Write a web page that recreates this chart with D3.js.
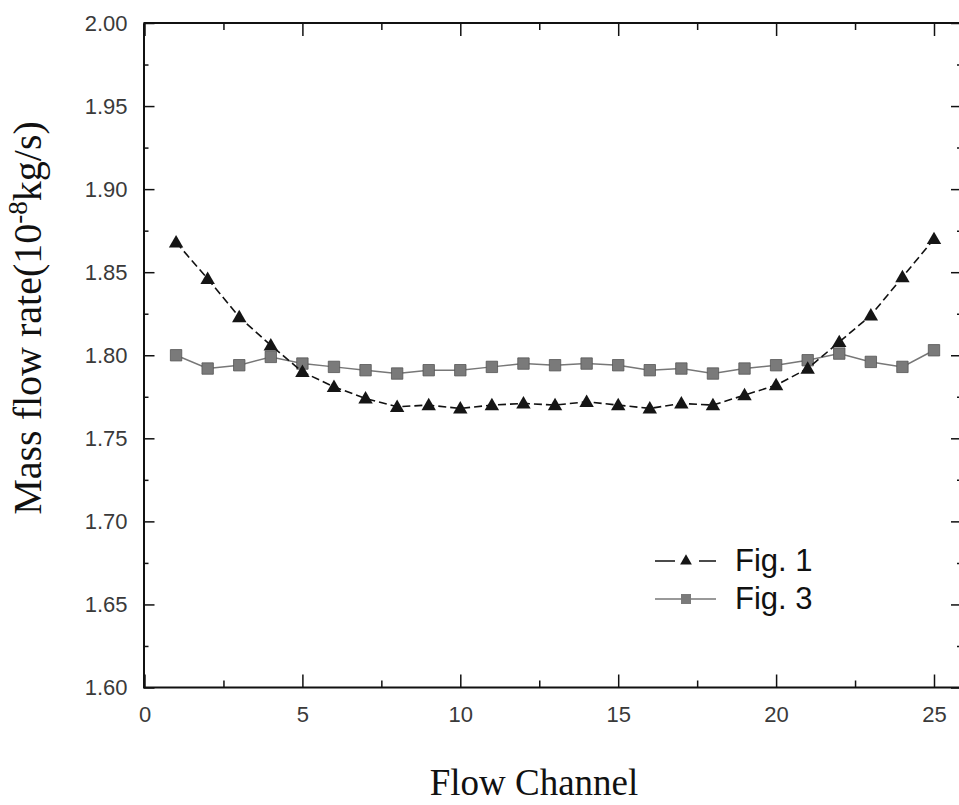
<!DOCTYPE html>
<html>
<head>
<meta charset="utf-8">
<script src="https://cdn.jsdelivr.net/npm/d3@7"></script>
<style>
  body { margin: 0; background: #fff; }
  svg { display: block; }
</style>
</head>
<body>
<div id="chart"></div>
<script>
const channels = [1, 2, 3, 4, 5, 6, 7, 8, 9, 10, 11, 12, 13, 14, 15, 16, 17, 18, 19, 20, 21, 22, 23, 24, 25]
const fig1 = [1.868, 1.846, 1.823, 1.806, 1.790, 1.781, 1.774, 1.769, 1.770, 1.768, 1.770, 1.771, 1.770,
  1.772, 1.770, 1.768, 1.771, 1.770, 1.776, 1.782, 1.792, 1.808, 1.824, 1.847, 1.870]
const fig3 = [1.800, 1.792, 1.794, 1.799, 1.795, 1.793, 1.791, 1.789, 1.791, 1.791, 1.793, 1.795, 1.794,
  1.795, 1.794, 1.791, 1.792, 1.789, 1.792, 1.794, 1.797, 1.801, 1.796, 1.793, 1.803]
const xTicks = [0, 5, 10, 15, 20, 25]
const xMinor = [2.5, 7.5, 12.5, 17.5, 22.5]
const yTicks = [1.60, 1.65, 1.70, 1.75, 1.80, 1.85, 1.90, 1.95, 2.00]
const yMinor = [1.625, 1.675, 1.725, 1.775, 1.825, 1.875, 1.925, 1.975]
const seriesNames = ["Fig. 1", "Fig. 3"]

const width = 959, height = 805
const axL = 143.5, axR = 962, axT = 23, axB = 687.5

const svg = d3.select("#chart").append("svg")
  .attr("width", width)
  .attr("height", height)

const x = d3.scaleLinear().domain([0, 25]).range([144.5, 934])
const y = d3.scaleLinear().domain([1.6, 2.0]).range([axB, axT])

const numFont = "'Liberation Sans', Arial, sans-serif"
const titleFont = "'Liberation Serif', 'Times New Roman', serif"

function styleAxis(g, labels) {
  g.select(".domain").attr("stroke", "#111").attr("stroke-width", 2)
  g.selectAll(".tick line").attr("stroke", "#111").attr("stroke-width", 1.5)
  g.selectAll(".tick text")
    .attr("fill", "#3a3a3a")
    .style("font-family", numFont)
    .style("font-size", "22px")
  if (!labels) g.selectAll(".tick text").remove()
}

// bottom
svg.append("g").attr("transform", `translate(0,${axB})`)
  .call(d3.axisBottom(x).tickValues(xMinor).tickSize(-7).tickSizeOuter(0))
  .call(g => styleAxis(g, false))
  .call(g => g.select(".domain").attr("d", `M${axL},0H${axR}`))
svg.append("g").attr("transform", `translate(0,${axB})`)
  .call(d3.axisBottom(x).tickValues(xTicks).tickSize(-13).tickSizeOuter(0).tickPadding(19))
  .call(g => styleAxis(g, true))
  .call(g => g.select(".domain").remove())

// top
svg.append("g").attr("transform", `translate(0,${axT})`)
  .call(d3.axisTop(x).tickValues(xMinor).tickSize(-7).tickSizeOuter(0))
  .call(g => styleAxis(g, false))
  .call(g => g.select(".domain").attr("d", `M${axL},0H${axR}`))
svg.append("g").attr("transform", `translate(0,${axT})`)
  .call(d3.axisTop(x).tickValues(xTicks).tickSize(-13).tickSizeOuter(0))
  .call(g => styleAxis(g, false))
  .call(g => g.select(".domain").remove())

// left
svg.append("g").attr("transform", `translate(${axL},0)`)
  .call(d3.axisLeft(y).tickValues(yMinor).tickSize(-5).tickSizeOuter(0))
  .call(g => styleAxis(g, false))
svg.append("g").attr("transform", `translate(${axL},0)`)
  .call(d3.axisLeft(y).tickValues(yTicks).tickSize(-11).tickSizeOuter(0).tickPadding(16).tickFormat(d3.format(".2f")))
  .call(g => styleAxis(g, true))
  .call(g => g.select(".domain").remove())

// right
svg.append("g").attr("transform", `translate(${axR},0)`)
  .call(d3.axisRight(y).tickValues(yMinor).tickSize(-5).tickSizeOuter(0))
  .call(g => styleAxis(g, false))
svg.append("g").attr("transform", `translate(${axR},0)`)
  .call(d3.axisRight(y).tickValues(yTicks).tickSize(-11).tickSizeOuter(0))
  .call(g => styleAxis(g, false))
  .call(g => g.select(".domain").remove())

const line = d3.line().x((d, i) => x(channels[i])).y(d => y(d))

// Fig. 3 - grey squares, thin solid line
svg.append("path").datum(fig3)
  .attr("d", line)
  .attr("fill", "none")
  .attr("stroke", "#777")
  .attr("stroke-width", 1.5)

svg.append("g").selectAll("path")
  .data(fig3)
  .join("path")
  .attr("transform", (d, i) => `translate(${x(channels[i])},${y(d)})`)
  .attr("d", d3.symbol(d3.symbolSquare, 130))
  .attr("fill", "#7a7a7a")
  .attr("stroke", "#555")
  .attr("stroke-width", 0.8)

// Fig. 1 - black triangles, dashed line
svg.append("path").datum(fig1)
  .attr("d", line)
  .attr("fill", "none")
  .attr("stroke", "#111")
  .attr("stroke-width", 1.6)
  .attr("stroke-dasharray", "8,4")

svg.append("g").selectAll("path")
  .data(fig1)
  .join("path")
  .attr("transform", (d, i) => `translate(${x(channels[i])},${y(d) + 1})`)
  .attr("d", d3.symbol(d3.symbolTriangle, 90))
  .attr("fill", "#151515")

// legend
const legend = svg.append("g")
const legendRows = [
  { name: seriesNames[0], ly: 561, dash: "20,24", color: "#111", sym: d3.symbolTriangle, size: 60, fill: "#151515" },
  { name: seriesNames[1], ly: 599, dash: null, color: "#777", sym: d3.symbolSquare, size: 100, fill: "#7a7a7a" }
]
legendRows.forEach(r => {
  legend.append("line")
    .attr("x1", 655).attr("x2", 716)
    .attr("y1", r.ly).attr("y2", r.ly)
    .attr("stroke", r.color)
    .attr("stroke-width", 1.5)
    .attr("stroke-dasharray", r.dash)
  legend.append("path")
    .attr("transform", `translate(686,${r.ly})`)
    .attr("d", d3.symbol(r.sym, r.size))
    .attr("fill", r.fill)
  legend.append("text")
    .attr("x", 735).attr("y", r.ly + 10)
    .style("font-family", numFont)
    .style("font-size", "31px")
    .attr("fill", "#111")
    .text(r.name)
})

// axis titles
svg.append("text")
  .attr("x", 534).attr("y", 795)
  .attr("text-anchor", "middle")
  .style("font-family", titleFont)
  .style("font-size", "37px")
  .attr("fill", "#111")
  .text("Flow Channel")

const yt = svg.append("text")
  .attr("transform", "translate(41,318) rotate(-90)")
  .attr("text-anchor", "middle")
  .style("font-family", titleFont)
  .style("font-size", "40px")
  .attr("fill", "#111")
yt.append("tspan").text("Mass flow rate(10")
yt.append("tspan").attr("dy", -14).style("font-size", "27px").text("-8")
yt.append("tspan").attr("dy", 14).text("kg/s)")
</script>
</body>
</html>
